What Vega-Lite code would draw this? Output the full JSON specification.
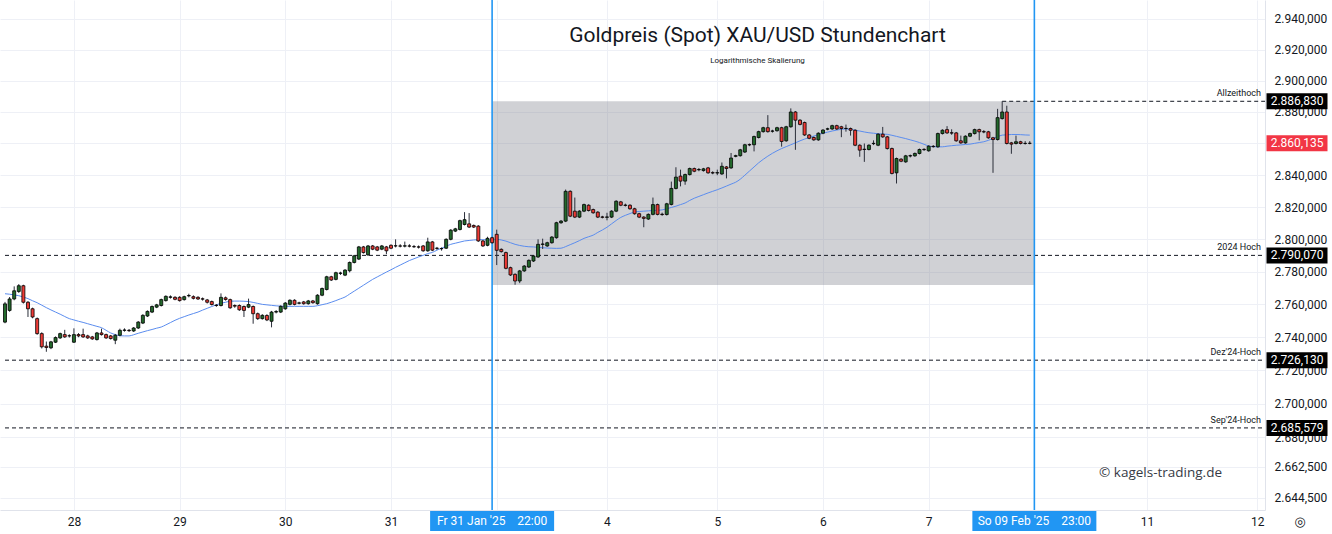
{
"$schema": "https://vega.github.io/schema/vega-lite/v6.json",
"width": 1265,
"height": 510,
"autosize": {"type": "none"},
"padding": {"left": 0, "top": 0, "right": 67, "bottom": 24},
"background": "#ffffff",
"config": {
  "locale": {"number": {"decimal": ",", "thousands": ".", "grouping": [3], "currency": ["", " €"]}},
  "view": {"stroke": null},
  "font": "Roboto"
},
"title": {
  "text": "Goldpreis (Spot) XAU/USD Stundenchart",
  "subtitle": "Logarithmische Skalierung",
  "anchor": "middle", "frame": "group", "dx": 125, "offset": -66,
  "font": "Roboto", "fontSize": 21, "fontWeight": "normal", "color": "#131722",
  "subtitleFont": "Roboto", "subtitleFontSize": 8, "subtitleColor": "#131722", "subtitlePadding": 11
},
"datasets": {
  "candles": [
{"i":0,"o":2749.2,"h":2761.5,"l":2748.5,"c":2760.3,"m":2766.5},
{"i":1,"o":2756.3,"h":2764.5,"l":2755.5,"c":2763.3,"m":2766.2},
{"i":2,"o":2763.3,"h":2771.0,"l":2762.5,"c":2768.3,"m":2765.8},
{"i":3,"o":2767.9,"h":2772.4,"l":2767.0,"c":2771.4,"m":2765.3},
{"i":4,"o":2771.4,"h":2772.0,"l":2760.5,"c":2761.3,"m":2764.5},
{"i":5,"o":2761.3,"h":2762.0,"l":2752.3,"c":2757.3,"m":2763.5},
{"i":6,"o":2757.3,"h":2758.0,"l":2751.5,"c":2752.3,"m":2762.2},
{"i":7,"o":2751.3,"h":2752.0,"l":2741.5,"c":2742.2,"m":2761.0},
{"i":8,"o":2742.2,"h":2743.0,"l":2733.2,"c":2734.2,"m":2759.5},
{"i":9,"o":2734.6,"h":2737.4,"l":2731.2,"c":2733.8,"m":2758.0},
{"i":10,"o":2733.6,"h":2737.8,"l":2732.8,"c":2737.2,"m":2756.6},
{"i":11,"o":2737.0,"h":2740.5,"l":2736.5,"c":2739.8,"m":2755.3},
{"i":12,"o":2739.6,"h":2742.8,"l":2739.0,"c":2742.2,"m":2754.0},
{"i":13,"o":2741.6,"h":2744.5,"l":2739.6,"c":2740.2,"m":2752.6},
{"i":14,"o":2740.8,"h":2741.8,"l":2739.8,"c":2740.9,"m":2751.3},
{"i":15,"o":2737.0,"h":2745.4,"l":2736.5,"c":2741.6,"m":2750.5},
{"i":16,"o":2741.6,"h":2742.5,"l":2740.0,"c":2740.8,"m":2749.7},
{"i":17,"o":2741.6,"h":2745.2,"l":2739.6,"c":2740.2,"m":2749.0},
{"i":18,"o":2740.8,"h":2741.5,"l":2739.0,"c":2739.6,"m":2748.2},
{"i":19,"o":2740.2,"h":2740.8,"l":2738.4,"c":2739.0,"m":2747.4},
{"i":20,"o":2738.6,"h":2743.2,"l":2738.0,"c":2742.6,"m":2746.6},
{"i":21,"o":2742.6,"h":2745.2,"l":2741.0,"c":2741.6,"m":2745.8},
{"i":22,"o":2741.6,"h":2742.2,"l":2739.0,"c":2739.6,"m":2744.2},
{"i":23,"o":2740.8,"h":2741.4,"l":2738.6,"c":2739.2,"m":2742.6},
{"i":24,"o":2738.2,"h":2742.0,"l":2735.8,"c":2741.2,"m":2741.6},
{"i":25,"o":2741.2,"h":2745.2,"l":2740.6,"c":2744.2,"m":2740.9},
{"i":26,"o":2744.2,"h":2745.4,"l":2743.4,"c":2744.4,"m":2740.8},
{"i":27,"o":2744.2,"h":2745.0,"l":2743.2,"c":2744.0,"m":2740.8},
{"i":28,"o":2743.8,"h":2746.2,"l":2743.2,"c":2745.6,"m":2741.5},
{"i":29,"o":2745.6,"h":2749.8,"l":2745.0,"c":2749.2,"m":2742.4},
{"i":30,"o":2748.6,"h":2754.0,"l":2748.0,"c":2753.3,"m":2743.2},
{"i":31,"o":2752.9,"h":2756.3,"l":2752.3,"c":2755.7,"m":2744.0},
{"i":32,"o":2755.3,"h":2759.3,"l":2754.7,"c":2758.7,"m":2744.7},
{"i":33,"o":2758.3,"h":2760.3,"l":2757.7,"c":2759.7,"m":2745.5},
{"i":34,"o":2759.3,"h":2763.5,"l":2758.7,"c":2762.9,"m":2746.2},
{"i":35,"o":2762.3,"h":2765.5,"l":2761.7,"c":2764.9,"m":2747.5},
{"i":36,"o":2764.3,"h":2765.5,"l":2763.5,"c":2764.6,"m":2748.9},
{"i":37,"o":2764.3,"h":2765.0,"l":2762.5,"c":2763.1,"m":2750.3},
{"i":38,"o":2764.3,"h":2765.0,"l":2761.7,"c":2762.3,"m":2751.5},
{"i":39,"o":2762.9,"h":2765.3,"l":2762.3,"c":2764.7,"m":2752.5},
{"i":40,"o":2765.2,"h":2766.5,"l":2764.3,"c":2765.4,"m":2753.5},
{"i":41,"o":2764.7,"h":2765.5,"l":2763.0,"c":2763.7,"m":2754.4},
{"i":42,"o":2764.3,"h":2765.0,"l":2762.7,"c":2763.3,"m":2755.3},
{"i":43,"o":2763.4,"h":2764.2,"l":2762.3,"c":2763.2,"m":2756.5},
{"i":44,"o":2762.7,"h":2763.3,"l":2760.5,"c":2761.3,"m":2757.6},
{"i":45,"o":2761.7,"h":2762.3,"l":2759.3,"c":2759.9,"m":2758.7},
{"i":46,"o":2759.5,"h":2760.2,"l":2758.5,"c":2759.3,"m":2759.7},
{"i":47,"o":2759.3,"h":2766.7,"l":2758.7,"c":2764.3,"m":2760.7},
{"i":48,"o":2764.0,"h":2764.8,"l":2762.3,"c":2763.0,"m":2761.3},
{"i":49,"o":2762.9,"h":2763.5,"l":2757.3,"c":2757.9,"m":2761.9},
{"i":50,"o":2759.3,"h":2760.0,"l":2757.9,"c":2758.9,"m":2762.0},
{"i":51,"o":2759.3,"h":2760.0,"l":2756.0,"c":2756.7,"m":2762.0},
{"i":52,"o":2758.7,"h":2759.3,"l":2752.3,"c":2756.3,"m":2761.9},
{"i":53,"o":2758.3,"h":2763.5,"l":2757.7,"c":2759.9,"m":2761.7},
{"i":54,"o":2758.7,"h":2759.3,"l":2748.2,"c":2754.3,"m":2761.2},
{"i":55,"o":2754.3,"h":2755.0,"l":2750.5,"c":2751.3,"m":2760.6},
{"i":56,"o":2751.3,"h":2754.0,"l":2750.7,"c":2753.3,"m":2760.0},
{"i":57,"o":2753.2,"h":2754.0,"l":2749.8,"c":2750.5,"m":2759.7},
{"i":58,"o":2749.7,"h":2756.0,"l":2746.0,"c":2755.3,"m":2759.4},
{"i":59,"o":2755.3,"h":2756.5,"l":2754.5,"c":2755.6,"m":2759.1},
{"i":60,"o":2755.3,"h":2759.4,"l":2754.7,"c":2758.8,"m":2758.9},
{"i":61,"o":2757.3,"h":2761.4,"l":2756.7,"c":2760.8,"m":2758.8},
{"i":62,"o":2760.0,"h":2763.1,"l":2759.4,"c":2762.5,"m":2758.8},
{"i":63,"o":2762.5,"h":2763.1,"l":2759.4,"c":2760.0,"m":2758.8},
{"i":64,"o":2760.7,"h":2761.6,"l":2760.0,"c":2760.9,"m":2758.8},
{"i":65,"o":2761.5,"h":2762.1,"l":2759.8,"c":2760.4,"m":2758.8},
{"i":66,"o":2760.4,"h":2762.7,"l":2759.8,"c":2762.1,"m":2758.8},
{"i":67,"o":2762.1,"h":2762.7,"l":2760.4,"c":2761.0,"m":2758.8},
{"i":68,"o":2760.4,"h":2766.2,"l":2759.8,"c":2765.6,"m":2759.2},
{"i":69,"o":2765.6,"h":2770.3,"l":2765.0,"c":2769.7,"m":2759.8},
{"i":70,"o":2769.1,"h":2777.5,"l":2768.5,"c":2776.9,"m":2760.4},
{"i":71,"o":2776.9,"h":2777.5,"l":2774.3,"c":2774.9,"m":2761.3},
{"i":72,"o":2775.3,"h":2780.0,"l":2774.7,"c":2779.4,"m":2762.3},
{"i":73,"o":2779.0,"h":2780.0,"l":2778.0,"c":2779.2,"m":2763.4},
{"i":74,"o":2777.9,"h":2781.6,"l":2777.3,"c":2781.0,"m":2764.5},
{"i":75,"o":2780.6,"h":2786.3,"l":2779.6,"c":2785.7,"m":2766.3},
{"i":76,"o":2785.7,"h":2790.4,"l":2785.1,"c":2789.8,"m":2768.1},
{"i":77,"o":2787.8,"h":2795.9,"l":2787.2,"c":2795.3,"m":2769.9},
{"i":78,"o":2795.3,"h":2795.9,"l":2791.2,"c":2791.8,"m":2771.7},
{"i":79,"o":2790.4,"h":2796.5,"l":2789.8,"c":2795.9,"m":2773.5},
{"i":80,"o":2795.9,"h":2796.5,"l":2793.3,"c":2793.9,"m":2775.3},
{"i":81,"o":2795.3,"h":2795.9,"l":2792.7,"c":2793.3,"m":2776.8},
{"i":82,"o":2793.9,"h":2796.5,"l":2793.3,"c":2795.9,"m":2778.3},
{"i":83,"o":2795.3,"h":2795.9,"l":2790.8,"c":2792.9,"m":2779.8},
{"i":84,"o":2796.3,"h":2796.9,"l":2793.9,"c":2794.5,"m":2781.2},
{"i":85,"o":2795.9,"h":2800.0,"l":2795.0,"c":2796.0,"m":2782.7},
{"i":86,"o":2795.9,"h":2797.0,"l":2795.0,"c":2795.8,"m":2784.1},
{"i":87,"o":2795.8,"h":2798.6,"l":2795.0,"c":2796.0,"m":2785.5},
{"i":88,"o":2795.9,"h":2797.0,"l":2795.0,"c":2795.8,"m":2786.9},
{"i":89,"o":2795.5,"h":2796.5,"l":2794.7,"c":2795.4,"m":2788.0},
{"i":90,"o":2795.3,"h":2796.2,"l":2794.3,"c":2795.2,"m":2789.1},
{"i":91,"o":2795.9,"h":2796.5,"l":2792.3,"c":2792.9,"m":2790.1},
{"i":92,"o":2792.9,"h":2801.0,"l":2792.3,"c":2798.4,"m":2791.2},
{"i":93,"o":2798.4,"h":2799.0,"l":2792.7,"c":2793.3,"m":2791.9},
{"i":94,"o":2794.4,"h":2795.3,"l":2793.5,"c":2794.5,"m":2793.3},
{"i":95,"o":2794.2,"h":2795.0,"l":2793.0,"c":2794.3,"m":2794.5},
{"i":96,"o":2794.5,"h":2800.6,"l":2794.0,"c":2800.0,"m":2795.7},
{"i":97,"o":2800.0,"h":2806.3,"l":2799.4,"c":2805.7,"m":2796.9},
{"i":98,"o":2805.1,"h":2807.1,"l":2804.5,"c":2806.5,"m":2797.6},
{"i":99,"o":2806.1,"h":2812.2,"l":2805.5,"c":2811.6,"m":2798.3},
{"i":100,"o":2809.2,"h":2816.9,"l":2808.6,"c":2812.2,"m":2799.0},
{"i":101,"o":2809.6,"h":2816.3,"l":2807.0,"c":2807.6,"m":2799.3},
{"i":102,"o":2808.6,"h":2809.2,"l":2807.0,"c":2807.6,"m":2799.6},
{"i":103,"o":2808.2,"h":2808.8,"l":2798.4,"c":2799.0,"m":2799.8},
{"i":104,"o":2799.0,"h":2799.6,"l":2795.3,"c":2795.9,"m":2799.8},
{"i":105,"o":2796.3,"h":2801.6,"l":2795.7,"c":2800.6,"m":2799.6},
{"i":106,"o":2801.0,"h":2801.6,"l":2797.3,"c":2797.9,"m":2799.6},
{"i":107,"o":2803.1,"h":2806.0,"l":2784.1,"c":2793.2,"m":2800.0},
{"i":108,"o":2793.8,"h":2794.4,"l":2791.8,"c":2792.4,"m":2799.6},
{"i":109,"o":2791.8,"h":2792.4,"l":2781.5,"c":2782.1,"m":2798.9},
{"i":110,"o":2782.5,"h":2783.1,"l":2777.4,"c":2778.0,"m":2797.9},
{"i":111,"o":2778.4,"h":2779.0,"l":2772.0,"c":2774.3,"m":2796.9},
{"i":112,"o":2774.3,"h":2781.1,"l":2773.0,"c":2780.5,"m":2796.2},
{"i":113,"o":2780.5,"h":2784.1,"l":2779.9,"c":2783.5,"m":2795.7},
{"i":114,"o":2782.9,"h":2787.6,"l":2782.3,"c":2787.0,"m":2795.4},
{"i":115,"o":2786.6,"h":2790.3,"l":2786.0,"c":2789.7,"m":2795.3},
{"i":116,"o":2789.1,"h":2800.0,"l":2788.5,"c":2796.9,"m":2795.0},
{"i":117,"o":2796.9,"h":2800.4,"l":2794.0,"c":2797.1,"m":2794.8},
{"i":118,"o":2795.9,"h":2798.5,"l":2795.3,"c":2797.9,"m":2794.6},
{"i":119,"o":2797.9,"h":2802.0,"l":2797.3,"c":2801.4,"m":2794.5},
{"i":120,"o":2801.0,"h":2810.9,"l":2800.4,"c":2810.3,"m":2794.4},
{"i":121,"o":2810.3,"h":2812.0,"l":2809.6,"c":2811.3,"m":2794.5},
{"i":122,"o":2811.3,"h":2831.0,"l":2810.7,"c":2829.9,"m":2795.5},
{"i":123,"o":2829.9,"h":2830.5,"l":2813.8,"c":2814.4,"m":2796.7},
{"i":124,"o":2817.5,"h":2826.0,"l":2813.2,"c":2813.8,"m":2797.9},
{"i":125,"o":2813.8,"h":2818.1,"l":2813.2,"c":2817.5,"m":2799.2},
{"i":126,"o":2817.5,"h":2822.2,"l":2816.9,"c":2821.6,"m":2800.6},
{"i":127,"o":2821.2,"h":2821.8,"l":2817.3,"c":2817.9,"m":2801.6},
{"i":128,"o":2818.5,"h":2819.1,"l":2815.9,"c":2816.5,"m":2802.6},
{"i":129,"o":2816.9,"h":2817.5,"l":2813.2,"c":2813.8,"m":2804.3},
{"i":130,"o":2813.9,"h":2814.6,"l":2813.0,"c":2813.7,"m":2805.8},
{"i":131,"o":2813.7,"h":2816.5,"l":2811.8,"c":2813.9,"m":2807.5},
{"i":132,"o":2813.8,"h":2818.1,"l":2813.2,"c":2817.5,"m":2809.6},
{"i":133,"o":2817.5,"h":2824.3,"l":2816.9,"c":2823.7,"m":2811.7},
{"i":134,"o":2823.3,"h":2823.9,"l":2820.6,"c":2821.2,"m":2813.6},
{"i":135,"o":2821.3,"h":2822.2,"l":2820.4,"c":2821.1,"m":2814.9},
{"i":136,"o":2821.2,"h":2821.8,"l":2818.4,"c":2819.0,"m":2816.0},
{"i":137,"o":2819.0,"h":2819.6,"l":2815.3,"c":2815.9,"m":2817.0},
{"i":138,"o":2815.9,"h":2816.5,"l":2813.2,"c":2813.8,"m":2817.3},
{"i":139,"o":2813.8,"h":2814.4,"l":2807.5,"c":2813.0,"m":2817.5},
{"i":140,"o":2812.6,"h":2816.1,"l":2812.0,"c":2815.5,"m":2817.7},
{"i":141,"o":2815.5,"h":2826.0,"l":2814.9,"c":2821.6,"m":2817.9},
{"i":142,"o":2821.6,"h":2822.2,"l":2814.9,"c":2815.5,"m":2818.0},
{"i":143,"o":2815.6,"h":2816.6,"l":2814.6,"c":2815.4,"m":2818.3},
{"i":144,"o":2815.4,"h":2822.7,"l":2814.8,"c":2822.1,"m":2819.0},
{"i":145,"o":2821.7,"h":2836.0,"l":2821.1,"c":2831.7,"m":2819.8},
{"i":146,"o":2831.7,"h":2845.0,"l":2831.1,"c":2838.8,"m":2820.6},
{"i":147,"o":2839.4,"h":2843.5,"l":2833.0,"c":2836.3,"m":2821.6},
{"i":148,"o":2836.3,"h":2841.0,"l":2834.0,"c":2840.4,"m":2822.6},
{"i":149,"o":2840.4,"h":2844.8,"l":2839.8,"c":2844.2,"m":2824.2},
{"i":150,"o":2844.2,"h":2844.8,"l":2841.9,"c":2842.5,"m":2825.6},
{"i":151,"o":2843.4,"h":2844.5,"l":2842.5,"c":2843.6,"m":2826.7},
{"i":152,"o":2842.9,"h":2844.6,"l":2842.3,"c":2844.0,"m":2827.8},
{"i":153,"o":2844.6,"h":2845.2,"l":2840.9,"c":2841.5,"m":2828.9},
{"i":154,"o":2841.6,"h":2842.5,"l":2840.6,"c":2841.4,"m":2829.9},
{"i":155,"o":2841.4,"h":2843.5,"l":2840.0,"c":2841.6,"m":2830.9},
{"i":156,"o":2840.8,"h":2848.0,"l":2840.2,"c":2845.6,"m":2832.0},
{"i":157,"o":2845.2,"h":2845.8,"l":2838.0,"c":2844.2,"m":2833.2},
{"i":158,"o":2844.6,"h":2854.0,"l":2844.0,"c":2850.8,"m":2834.4},
{"i":159,"o":2851.9,"h":2852.9,"l":2851.3,"c":2852.3,"m":2835.6},
{"i":160,"o":2852.3,"h":2856.6,"l":2851.7,"c":2856.0,"m":2837.5},
{"i":161,"o":2854.6,"h":2859.8,"l":2854.0,"c":2859.2,"m":2840.0},
{"i":162,"o":2859.3,"h":2860.0,"l":2858.3,"c":2859.1,"m":2842.6},
{"i":163,"o":2859.2,"h":2865.0,"l":2855.0,"c":2864.4,"m":2845.2},
{"i":164,"o":2863.8,"h":2868.1,"l":2863.2,"c":2867.5,"m":2847.8},
{"i":165,"o":2867.5,"h":2870.6,"l":2866.9,"c":2870.0,"m":2850.0},
{"i":166,"o":2870.0,"h":2878.0,"l":2866.9,"c":2867.5,"m":2852.0},
{"i":167,"o":2867.8,"h":2868.7,"l":2866.9,"c":2867.9,"m":2853.8},
{"i":168,"o":2868.1,"h":2870.6,"l":2867.5,"c":2870.0,"m":2855.4},
{"i":169,"o":2870.0,"h":2870.6,"l":2858.0,"c":2861.3,"m":2856.8},
{"i":170,"o":2861.7,"h":2871.2,"l":2861.1,"c":2870.6,"m":2858.0},
{"i":171,"o":2870.6,"h":2882.3,"l":2870.0,"c":2880.0,"m":2859.2},
{"i":172,"o":2880.0,"h":2880.6,"l":2856.0,"c":2874.8,"m":2860.4},
{"i":173,"o":2874.8,"h":2875.4,"l":2871.5,"c":2872.1,"m":2861.7},
{"i":174,"o":2873.3,"h":2873.9,"l":2864.8,"c":2865.4,"m":2862.8},
{"i":175,"o":2865.4,"h":2866.0,"l":2862.7,"c":2863.3,"m":2863.8},
{"i":176,"o":2863.8,"h":2864.4,"l":2861.7,"c":2862.3,"m":2864.7},
{"i":177,"o":2862.3,"h":2867.1,"l":2861.7,"c":2866.5,"m":2865.6},
{"i":178,"o":2866.5,"h":2869.1,"l":2865.9,"c":2868.5,"m":2866.5},
{"i":179,"o":2869.1,"h":2870.0,"l":2868.4,"c":2869.3,"m":2867.2},
{"i":180,"o":2869.2,"h":2871.9,"l":2868.6,"c":2871.3,"m":2867.9},
{"i":181,"o":2871.3,"h":2871.9,"l":2868.6,"c":2869.2,"m":2868.5},
{"i":182,"o":2870.6,"h":2871.2,"l":2864.0,"c":2869.5,"m":2869.0},
{"i":183,"o":2869.5,"h":2872.0,"l":2867.5,"c":2869.6,"m":2869.2},
{"i":184,"o":2869.5,"h":2870.1,"l":2865.0,"c":2868.4,"m":2869.0},
{"i":185,"o":2868.4,"h":2869.0,"l":2858.3,"c":2858.9,"m":2868.4},
{"i":186,"o":2858.9,"h":2859.5,"l":2851.6,"c":2855.8,"m":2867.9},
{"i":187,"o":2856.4,"h":2860.0,"l":2848.4,"c":2856.2,"m":2867.3},
{"i":188,"o":2856.2,"h":2859.5,"l":2855.6,"c":2858.9,"m":2866.8},
{"i":189,"o":2859.9,"h":2862.0,"l":2859.0,"c":2860.1,"m":2866.5},
{"i":190,"o":2858.9,"h":2866.5,"l":2858.3,"c":2865.9,"m":2866.2},
{"i":191,"o":2865.9,"h":2870.5,"l":2863.6,"c":2864.2,"m":2866.0},
{"i":192,"o":2864.2,"h":2864.8,"l":2856.2,"c":2856.8,"m":2865.8},
{"i":193,"o":2856.8,"h":2857.4,"l":2840.5,"c":2841.1,"m":2865.2},
{"i":194,"o":2841.5,"h":2851.1,"l":2834.8,"c":2850.5,"m":2864.5},
{"i":195,"o":2850.1,"h":2850.7,"l":2848.2,"c":2848.8,"m":2863.8},
{"i":196,"o":2848.4,"h":2852.8,"l":2847.8,"c":2852.2,"m":2863.1},
{"i":197,"o":2852.1,"h":2853.0,"l":2851.2,"c":2852.3,"m":2862.3},
{"i":198,"o":2852.2,"h":2854.3,"l":2851.6,"c":2853.7,"m":2861.5},
{"i":199,"o":2853.7,"h":2856.8,"l":2853.1,"c":2856.2,"m":2860.6},
{"i":200,"o":2856.3,"h":2857.0,"l":2855.3,"c":2856.1,"m":2859.5},
{"i":201,"o":2855.4,"h":2858.9,"l":2854.8,"c":2858.3,"m":2858.4},
{"i":202,"o":2858.2,"h":2859.0,"l":2857.4,"c":2858.0,"m":2858.0},
{"i":203,"o":2857.9,"h":2866.9,"l":2857.3,"c":2866.3,"m":2857.9},
{"i":204,"o":2866.3,"h":2869.0,"l":2865.7,"c":2868.4,"m":2857.9},
{"i":205,"o":2868.8,"h":2871.0,"l":2866.1,"c":2866.7,"m":2858.3},
{"i":206,"o":2866.8,"h":2869.0,"l":2865.5,"c":2866.6,"m":2858.6},
{"i":207,"o":2866.7,"h":2867.3,"l":2861.1,"c":2861.7,"m":2858.9},
{"i":208,"o":2861.7,"h":2865.0,"l":2859.8,"c":2860.4,"m":2859.1},
{"i":209,"o":2860.4,"h":2865.2,"l":2859.8,"c":2864.6,"m":2859.4},
{"i":210,"o":2864.6,"h":2866.9,"l":2864.0,"c":2866.3,"m":2859.6},
{"i":211,"o":2866.3,"h":2869.4,"l":2865.7,"c":2868.8,"m":2860.1},
{"i":212,"o":2868.8,"h":2869.4,"l":2862.0,"c":2867.4,"m":2860.6},
{"i":213,"o":2867.5,"h":2868.5,"l":2866.5,"c":2867.3,"m":2861.1},
{"i":214,"o":2867.4,"h":2868.0,"l":2863.0,"c":2863.6,"m":2862.0},
{"i":215,"o":2863.6,"h":2864.2,"l":2841.5,"c":2862.5,"m":2863.2},
{"i":216,"o":2862.5,"h":2882.0,"l":2861.9,"c":2876.4,"m":2864.3},
{"i":217,"o":2875.8,"h":2886.83,"l":2875.2,"c":2880.0,"m":2865.3},
{"i":218,"o":2880.0,"h":2884.0,"l":2859.4,"c":2860.0,"m":2865.5},
{"i":219,"o":2860.4,"h":2861.0,"l":2853.5,"c":2859.6,"m":2865.7},
{"i":220,"o":2860.0,"h":2865.0,"l":2859.4,"c":2861.1,"m":2865.7},
{"i":221,"o":2861.1,"h":2861.7,"l":2859.4,"c":2860.0,"m":2865.6},
{"i":222,"o":2860.0,"h":2861.5,"l":2859.3,"c":2860.1,"m":2865.4},
{"i":223,"o":2860.1,"h":2861.5,"l":2859.5,"c":2860.135,"m":2865.3}
  ],
  "zone": [{"a": 106, "b": 224, "lo": 2771.9, "hi": 2886.83}],
  "levels": [
    {"name": "Allzeithoch", "p": 2886.83, "s": 217},
    {"name": "2024 Hoch", "p": 2790.07, "s": 0},
    {"name": "Dez'24-Hoch", "p": 2726.13, "s": 0},
    {"name": "Sep'24-Hoch", "p": 2685.579, "s": 0}
  ],
  "tags": [
    {"p": 2886.83, "k": "level"},
    {"p": 2860.135, "k": "last"},
    {"p": 2790.07, "k": "level"},
    {"p": 2726.13, "k": "level"},
    {"p": 2685.579, "k": "level"}
  ],
  "stamps": [
    {"i": 106, "t": "Fr 31 Jan '25\u00a0\u00a0\u00a0 22:00"},
    {"i": 224, "t": "So 09 Feb '25\u00a0\u00a0\u00a0 23:00"}
  ],
  "credit": [{"t": "© kagels-trading.de"}],
  "icon": [{"t": "◎"}]
},
"layer": [
  {
    "data": {"name": "zone"},
    "mark": {"type": "rect", "fill": "#787b86", "opacity": 0.35},
    "encoding": {
      "x": {"field": "a", "type": "quantitative",
        "scale": {"domain": [0, 273.1], "nice": false, "zero": false},
        "axis": {"values": [15, 38, 61, 84, 107, 131, 155, 178, 201, 224, 248.5, 272.5],
          "labelExpr": "datum.value==15?'28':datum.value==38?'29':datum.value==61?'30':datum.value==84?'31':datum.value==131?'4':datum.value==155?'5':datum.value==178?'6':datum.value==201?'7':datum.value==248.5?'11':datum.value==272.5?'12':''",
          "grid": true, "gridColor": "#eef0f6", "gridWidth": 1, "ticks": false,
          "domainColor": "#e0e3eb", "labelColor": "#131722", "labelFontSize": 12, "labelFont": "Roboto",
          "labelPadding": 6, "title": null, "labelFlush": false, "labelOverlap": false, "labelBound": false}},
      "x2": {"field": "b"},
      "y": {"field": "lo", "type": "quantitative",
        "scale": {"type": "log", "domain": [2637.25, 2952.25], "nice": false, "zero": false},
        "axis": {"orient": "right",
          "values": [2940, 2920, 2900, 2880, 2860, 2840, 2820, 2800, 2780, 2760, 2740, 2720, 2700, 2680, 2662.5, 2644.5],
          "labelExpr": "datum.value == 2860 ? '' : format(datum.value, ',.3f')",
          "grid": true, "gridColor": "#eef0f6", "gridWidth": 1, "ticks": false,
          "domainColor": "#e0e3eb", "labelColor": "#131722", "labelFontSize": 12, "labelFont": "Roboto",
          "labelPadding": 9, "title": null, "labelOverlap": false, "labelFlush": false, "labelBound": false}},
      "y2": {"field": "hi"}
    }
  },
  {
    "data": {"name": "levels"},
    "mark": {"type": "rule", "color": "#131722", "strokeWidth": 1, "strokeDash": [4, 3]},
    "encoding": {
      "x": {"field": "s", "type": "quantitative", "axis": {"title": null}},
      "x2": {"value": "width"},
      "y": {"field": "p", "type": "quantitative", "axis": {"title": null}}
    }
  },
  {
    "data": {"name": "stamps"},
    "mark": {"type": "rule", "color": "#2196f3", "strokeWidth": 1.6},
    "encoding": {
      "x": {"field": "i", "type": "quantitative", "axis": {"title": null}}
    }
  },
  {
    "data": {"name": "candles"},
    "mark": {"type": "line", "color": "#5b8def", "strokeWidth": 1, "interpolate": "monotone"},
    "encoding": {
      "x": {"field": "i", "type": "quantitative", "axis": {"title": null}},
      "y": {"field": "m", "type": "quantitative", "axis": {"title": null}}
    }
  },
  {
    "data": {"name": "candles"},
    "mark": {"type": "rule", "color": "#2a2e39", "strokeWidth": 1},
    "encoding": {
      "x": {"field": "i", "type": "quantitative", "axis": {"title": null}},
      "y": {"field": "l", "type": "quantitative", "axis": {"title": null}},
      "y2": {"field": "h"}
    }
  },
  {
    "data": {"name": "candles"},
    "mark": {"type": "bar", "width": 3, "stroke": "#000000", "strokeWidth": 0.8, "orient": "vertical"},
    "encoding": {
      "x": {"field": "i", "type": "quantitative", "axis": {"title": null}},
      "y": {"field": "o", "type": "quantitative", "axis": {"title": null}},
      "y2": {"field": "c"},
      "fill": {"condition": {"test": "datum.c >= datum.o", "value": "#23692c"}, "value": "#ef3b36"}
    }
  },
  {
    "data": {"name": "levels"},
    "mark": {"type": "text", "align": "right", "baseline": "bottom", "dx": -4, "dy": -3, "fontSize": 9, "font": "Roboto", "color": "#131722"},
    "encoding": {
      "x": {"value": "width"},
      "y": {"field": "p", "type": "quantitative", "axis": {"title": null}},
      "text": {"field": "name"}
    }
  },
  {
    "data": {"name": "tags"},
    "mark": {"type": "point", "shape": "M-1,-0.262H1V0.262H-1Z", "size": 3721, "filled": true, "opacity": 1, "strokeWidth": 0, "xOffset": 32},
    "encoding": {
      "x": {"value": "width"},
      "y": {"field": "p", "type": "quantitative", "axis": {"title": null}},
      "color": {"condition": {"test": "datum.k == 'last'", "value": "#f23645"}, "value": "#000000"}
    }
  },
  {
    "data": {"name": "tags"},
    "mark": {"type": "text", "align": "center", "baseline": "middle", "dx": 32, "fontSize": 12, "font": "Roboto", "color": "#ffffff"},
    "encoding": {
      "x": {"value": "width"},
      "y": {"field": "p", "type": "quantitative", "axis": {"title": null}},
      "text": {"field": "p", "type": "quantitative", "format": ",.3f"}
    }
  },
  {
    "data": {"name": "stamps"},
    "mark": {"type": "point", "shape": "M-1,-0.1613H1V0.1613H-1Z", "size": 15376, "filled": true, "opacity": 1, "strokeWidth": 0, "color": "#2196f3", "yOffset": 11},
    "encoding": {
      "x": {"field": "i", "type": "quantitative", "axis": {"title": null}},
      "y": {"value": "height"}
    }
  },
  {
    "data": {"name": "stamps"},
    "mark": {"type": "text", "align": "center", "baseline": "middle", "dy": 11, "fontSize": 12, "font": "Roboto", "color": "#ffffff"},
    "encoding": {
      "x": {"field": "i", "type": "quantitative", "axis": {"title": null}},
      "y": {"value": "height"},
      "text": {"field": "t"}
    }
  },
  {
    "data": {"name": "credit"},
    "mark": {"type": "text", "align": "right", "baseline": "middle", "dx": -43, "dy": -37, "fontSize": 13.5, "font": "Open Sans", "color": "#363a45"},
    "encoding": {
      "x": {"value": "width"},
      "y": {"value": "height"},
      "text": {"field": "t"}
    }
  },
  {
    "data": {"name": "icon"},
    "mark": {"type": "text", "align": "center", "baseline": "middle", "dx": 35, "dy": 12, "fontSize": 13, "font": "DejaVu Sans", "color": "#131722"},
    "encoding": {
      "x": {"value": "width"},
      "y": {"value": "height"},
      "text": {"field": "t"}
    }
  }
]
}
